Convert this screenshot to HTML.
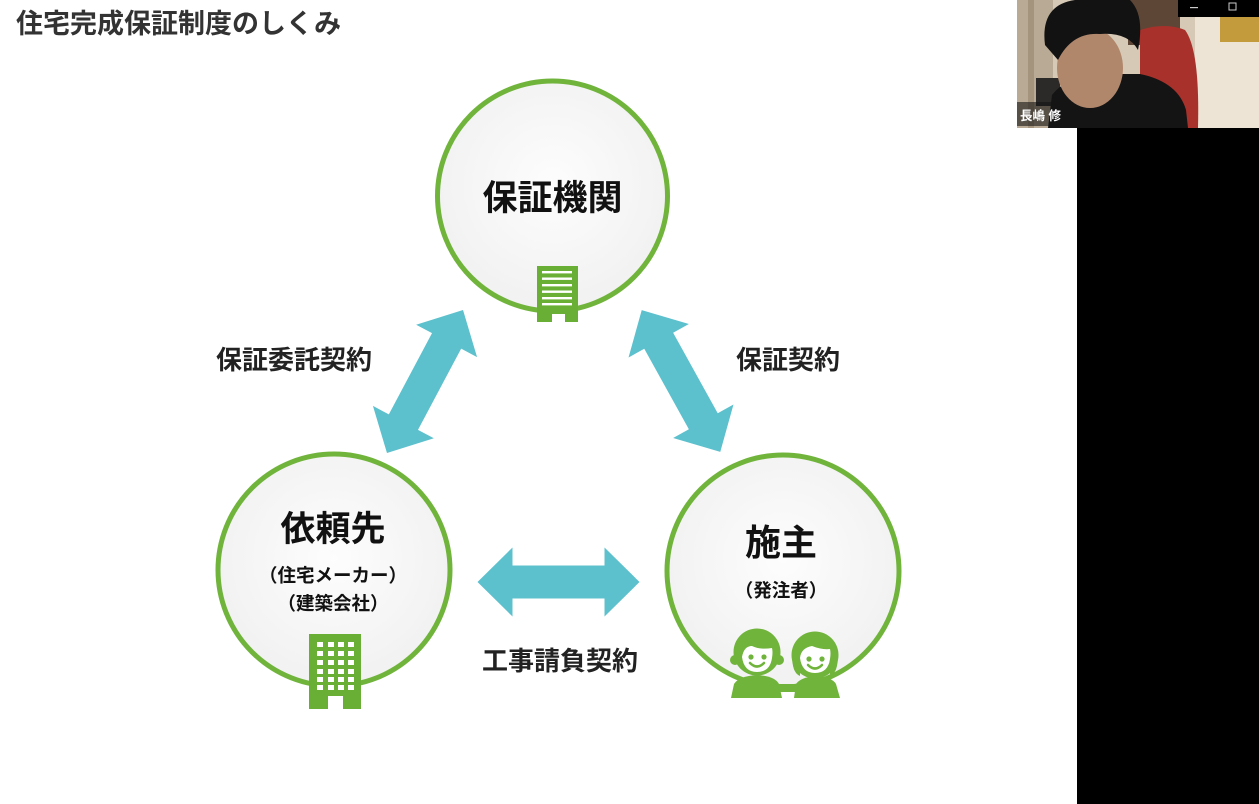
<!DOCTYPE html>
<html><head><meta charset="utf-8">
<style>
html,body{margin:0;padding:0;background:#fff;}
body{width:1259px;height:804px;overflow:hidden;position:relative;}
svg{display:block;}
text{font-family:"Liberation Sans","Noto Sans CJK JP",sans-serif;font-weight:bold;}
</style></head>
<body>
<svg width="1259" height="804" viewBox="0 0 1259 804" xmlns="http://www.w3.org/2000/svg">
<defs>
<radialGradient id="cf" cx="50%" cy="45%" r="55%">
<stop offset="0" stop-color="#fdfdfd"/>
<stop offset="1" stop-color="#f1f1f1"/>
</radialGradient>
<polygon id="arr" points="-81,0 -46,-34.5 -46,-16.5 46,-16.5 46,-34.5 81,0 46,34.5 46,16.5 -46,16.5 -46,34.5"/>
</defs>
<rect width="1259" height="804" fill="#fff"/>

<!-- title -->
<text x="16" y="33" font-size="27" fill="#333">住宅完成保証制度のしくみ</text>

<!-- arrows -->
<g fill="#5cc0cd">
<use href="#arr" transform="translate(425,381.5) rotate(-62)"/>
<use href="#arr" transform="translate(681,381) rotate(61)"/>
<use href="#arr" transform="translate(558.5,582)"/>
</g>

<!-- circles -->
<g stroke="#70b43c" stroke-width="5" fill="url(#cf)">
<circle cx="552.5" cy="196" r="115"/>
<circle cx="334" cy="570" r="116"/>
<circle cx="783" cy="571" r="116"/>
</g>

<!-- top building -->
<g>
<rect x="537" y="266" width="41" height="48" fill="#6aaf35"/>
<rect x="537" y="312" width="15" height="10" fill="#6aaf35"/>
<rect x="565" y="312" width="13" height="10" fill="#6aaf35"/>
<g fill="#fff">
<rect x="542" y="271" width="30" height="2.4"/>
<rect x="542" y="277.5" width="30" height="2.4"/>
<rect x="542" y="284" width="30" height="2.4"/>
<rect x="542" y="290.5" width="30" height="2.4"/>
<rect x="542" y="297" width="30" height="2.4"/>
<rect x="542" y="303" width="30" height="2.4"/>
</g>
</g>

<!-- left building -->
<g>
<rect x="309" y="634" width="52" height="75" fill="#6aaf35"/>
<g fill="#fff">
<rect x="317" y="642" width="6" height="5"/><rect x="328" y="642" width="6" height="5"/><rect x="338" y="642" width="6" height="5"/><rect x="348" y="642" width="6" height="5"/>
<rect x="317" y="651" width="6" height="5"/><rect x="328" y="651" width="6" height="5"/><rect x="338" y="651" width="6" height="5"/><rect x="348" y="651" width="6" height="5"/>
<rect x="317" y="660" width="6" height="5"/><rect x="328" y="660" width="6" height="5"/><rect x="338" y="660" width="6" height="5"/><rect x="348" y="660" width="6" height="5"/>
<rect x="317" y="669" width="6" height="5"/><rect x="328" y="669" width="6" height="5"/><rect x="338" y="669" width="6" height="5"/><rect x="348" y="669" width="6" height="5"/>
<rect x="317" y="677" width="6" height="5"/><rect x="328" y="677" width="6" height="5"/><rect x="338" y="677" width="6" height="5"/><rect x="348" y="677" width="6" height="5"/>
<rect x="317" y="685" width="6" height="5"/><rect x="328" y="685" width="6" height="5"/><rect x="338" y="685" width="6" height="5"/><rect x="348" y="685" width="6" height="5"/>
<rect x="328" y="696" width="15" height="13"/>
</g>
</g>

<!-- people -->
<g fill="#70b43c">
<path d="M731,698 L734,684 Q739,676 757,675 Q775,676 779,684 L782,698 Z"/>
<circle cx="757" cy="652" r="23.5"/>
<circle cx="735" cy="660" r="5"/>
<circle cx="779" cy="660" r="5"/>
<path d="M794,698 L796,684 Q801,677 816,676 Q832,677 836,684 L840,698 Z"/>
<circle cx="815" cy="655" r="23.5"/>
<path d="M792,655 Q792,673 800,676 L800,655 Z"/>
<path d="M838,655 Q838,673 830,676 L830,655 Z"/>
<rect x="774" y="684" width="26" height="8" rx="3"/>
</g>
<g fill="#fff">
<path d="M742,657 Q744,646 752,646 Q760,650 772,648 Q773,652 772,658 Q770,672 757,672 Q744,672 742,657 Z"/>
<path d="M800,658 Q801,648 812,646 Q822,650 830,649 Q831,653 830,659 Q828,673 815,673 Q802,673 800,658 Z"/>
</g>
<g fill="#70b43c">
<circle cx="751" cy="657" r="2.6"/><circle cx="764" cy="657" r="2.6"/>
<circle cx="809" cy="659" r="2.6"/><circle cx="822" cy="659" r="2.6"/>
</g>
<g fill="none" stroke="#70b43c" stroke-width="2.5" stroke-linecap="round">
<path d="M750,663 Q757,670 764,663"/>
<path d="M808,665 Q815,672 822,665"/>
</g>

<!-- circle texts -->
<g fill="#111" text-anchor="middle">
<text x="552.5" y="210" font-size="35">保証機関</text>
<text x="333" y="541" font-size="35">依頼先</text>
<text x="333" y="582" font-size="18.5">（住宅メーカー）</text>
<text x="333" y="610" font-size="18.5">（建築会社）</text>
<text x="781" y="555" font-size="36">施主</text>
<text x="781" y="597" font-size="18.5">（発注者）</text>
</g>

<!-- labels -->
<g fill="#222" text-anchor="middle" font-size="26">
<text x="294" y="369">保証委託契約</text>
<text x="788" y="369">保証契約</text>
<text x="560" y="670">工事請負契約</text>
</g>

<!-- black right column -->
<rect x="1077" y="128" width="182" height="676" fill="#000"/>

<!-- webcam -->
<g>
<rect x="1017" y="0" width="242" height="128" fill="#d6c9b6"/>
<rect x="1017" y="0" width="36" height="128" fill="#b8aa95"/>
<rect x="1028" y="0" width="6" height="128" fill="#a4947e"/>
<rect x="1036" y="78" width="24" height="28" fill="#2b2a28"/>
<rect x="1128" y="0" width="52" height="45" fill="#5e4636"/>
<rect x="1195" y="17" width="64" height="111" fill="#ede4d6"/>
<rect x="1220" y="17" width="39" height="25" fill="#c49b3c"/>
<path d="M1140,30 Q1165,22 1185,30 Q1200,50 1198,128 L1140,128 Z" fill="#a8322b"/>
<path d="M1048,128 L1052,95 Q1065,78 1095,74 L1140,74 Q1178,82 1186,110 L1188,128 Z" fill="#141414"/>
<ellipse cx="1090" cy="68" rx="33" ry="40" fill="#b0876b"/>
<path d="M1045,45 Q1040,5 1075,0 L1130,0 Q1145,15 1138,50 Q1128,32 1100,34 Q1072,32 1058,60 Z" fill="#121212"/>
<rect x="1017" y="102" width="48" height="24" fill="rgba(20,20,20,0.6)"/>
<text x="1020" y="120" font-size="12.5" fill="#fff" font-weight="bold">長嶋 修</text>
<rect x="1178" y="0" width="81" height="17" fill="#000"/>
<rect x="1190" y="7" width="8" height="1.2" fill="#ccc"/>
<rect x="1229" y="3" width="7" height="7" fill="none" stroke="#ccc" stroke-width="1"/>
</g>
</svg>
</body></html>
